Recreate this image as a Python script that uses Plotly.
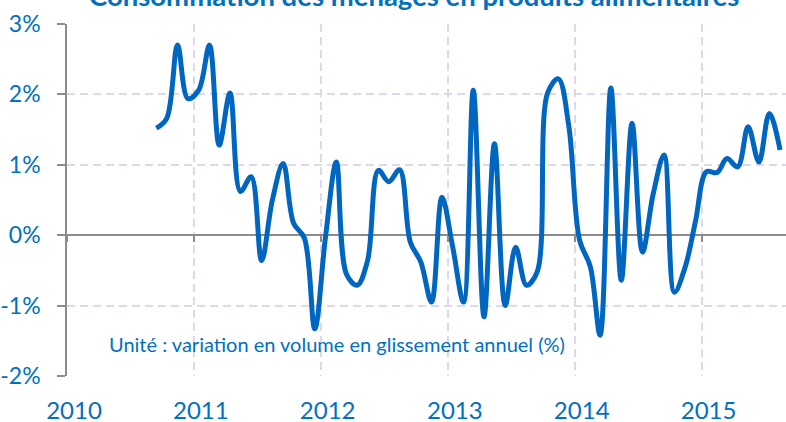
import plotly.graph_objects as go
import pandas as pd

# Monthly points, Sept 2010 .. Aug 2015 (plotted mid-month)
months = [d.strftime("%Y-%m") for d in pd.date_range("2010-09-01", "2015-08-01", freq="MS")]
values = [
    1.52, 1.66, 2.70, 1.94,                                              # 2010 Sep-Dec
    2.06, 2.70, 1.28, 2.02, 0.62, 0.83, -0.36, 0.50, 1.02, 0.17, -0.04, -1.33,   # 2011
    -0.02, 1.04, -0.55, -0.71, -0.36, 0.92, 0.76, 0.93, -0.10, -0.38, -0.95, 0.54,  # 2012
    -0.17, -0.95, 2.06, -1.16, 1.30, -1.00, -0.17, -0.71, -0.52, 2.02, 2.22, 1.55,  # 2013
    -0.07, -0.45, -1.42, 2.09, -0.64, 1.59, -0.24, 0.59, 1.14, -0.81, -0.45, 0.21,  # 2014
    0.90, 0.89, 1.09, 0.97, 1.54, 1.04, 1.73, 1.21,                      # 2015 Jan-Aug
]
year_labels = ["2010", "2011", "2012", "2013", "2014", "2015"]
y_ticks = [-2, -1, 0, 1, 2, 3]
y_labels = ["-2%", "-1%", "0%", "1%", "2%", "3%"]

title = "Consommation des ménages en produits alimentaires"
note = "Unité : variation en volume en glissement annuel (%)"

x = [m + "-15" for m in months]
year_vals = [y + "-01-01" for y in year_labels]

BLUE = "#0066C0"
TXT = "#0070C0"
GRID = "#DDD8EA"
AXIS = "#8C8C8C"
FONT = "Lato"

fig = go.Figure()
fig.add_trace(go.Scatter(
    x=x, y=values, mode="lines",
    line=dict(color=BLUE, width=5, shape="spline", smoothing=1.0),
    showlegend=False, hoverinfo="skip",
))
# invisible trace to carry the axis ticks drawn on the zero line
fig.add_trace(go.Scatter(
    x=x, y=values, mode="lines", xaxis="x2",
    line=dict(color="rgba(0,0,0,0)", width=0),
    showlegend=False, hoverinfo="skip",
))

fig.update_layout(
    width=786, height=422,
    margin=dict(l=67, r=0, t=24, b=46, autoexpand=False),
    paper_bgcolor="white", plot_bgcolor="white",
    font=dict(family=FONT, color=TXT),
    xaxis=dict(
        type="date", range=["2010-01-01", "2015-09-01"],
        tickvals=year_vals, ticktext=year_labels,
        showgrid=True, gridcolor=GRID, griddash="8px,5px", gridwidth=1.5,
        showline=False, zeroline=False, ticks="",
        tickfont=dict(family=FONT, size=24, color=TXT),
        ticklabelshift=7, ticklabelstandoff=18, automargin=False,
    ),
    xaxis2=dict(
        type="date", matches="x", overlaying="x", anchor="free", position=0.4,
        tickvals=year_vals, ticks="outside", ticklen=6, tickwidth=1.5,
        tickcolor=AXIS, showticklabels=False, showgrid=False,
        showline=False, zeroline=False, automargin=False,
    ),
    yaxis=dict(
        range=[-2, 3], tickvals=y_ticks, ticktext=y_labels,
        showgrid=True, gridcolor=GRID, griddash="8px,5px", gridwidth=1.5,
        zeroline=True, zerolinecolor=AXIS, zerolinewidth=1.5,
        showline=True, linecolor=AXIS, linewidth=1.5,
        ticks="outside", ticklen=8, tickwidth=1.5, tickcolor=AXIS,
        tickfont=dict(family=FONT, size=23, color=TXT),
        ticklabelstandoff=12, automargin=False,
    ),
    annotations=[
        dict(text="<b>" + title + "</b>", xref="paper", yref="paper",
             x=0.4826, y=1, xanchor="center", yanchor="middle", yshift=29,
             showarrow=False, font=dict(family=FONT, size=27.5, color=TXT)),
        dict(text=note, xref="paper", yref="paper",
             x=0.055, y=0.09, xanchor="left", yanchor="middle",
             showarrow=False, font=dict(family=FONT, size=20, color=TXT)),
    ],
)

fig.write_html(
    "out.html",
    config={"displayModeBar": False},
    post_script="document.body.style.margin='0';document.body.style.overflow='hidden';",
)
